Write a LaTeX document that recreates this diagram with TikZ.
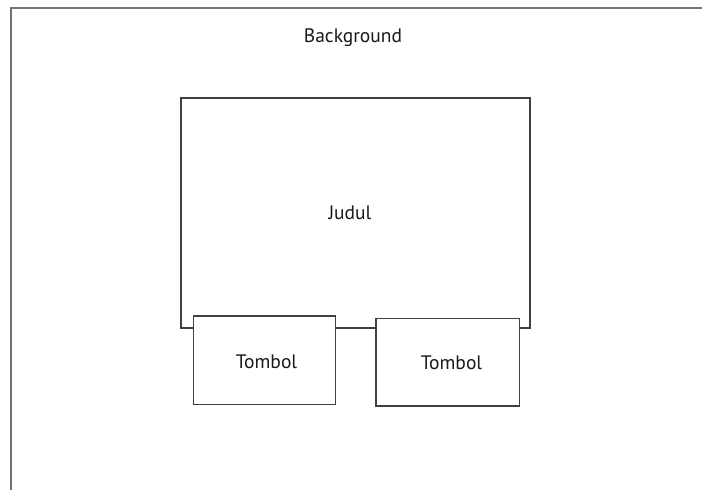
\documentclass[tikz,border=0pt]{standalone}
\usepackage{fontspec}
\setmainfont{PT Sans}
\begin{document}
\begin{tikzpicture}[x=1pt,y=-1pt,
  box/.style={draw=black!75,line width=1.1pt,fill=white},
  lbl/.style={font=\fontsize{19.5}{22}\selectfont,text=black!90}]
\useasboundingbox (0,0) rectangle (702,490);
\begin{scope}
\clip (0,0) rectangle (702,490);
\draw[draw=black!55,line width=2pt] (11,8) rectangle (720,510);
\end{scope}
\node[lbl] (bg) at (353,38) {Background};
\draw[box] (181,98) rectangle (530,328);
\node[lbl] (judul) at (350,213) {Judul};
\draw[box] (193.3,316) rectangle (335.7,404.3);
\node[lbl] (t1) at (266.5,361.5) {Tombol};
\draw[box] (376,318.3) rectangle (519.3,406);
\node[lbl] (t2) at (451.5,362.5) {Tombol};
\end{tikzpicture}
\end{document}
